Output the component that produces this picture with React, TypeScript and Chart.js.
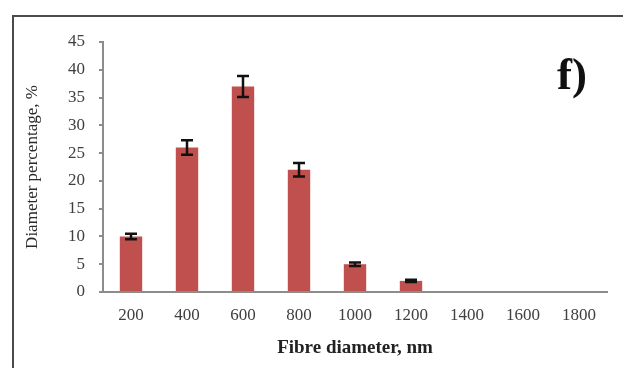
import React, { useEffect, useRef } from "react";
import { Chart, registerables } from "chart.js";

Chart.register(...registerables);

const categories = ["200", "400", "600", "800", "1000", "1200", "1400", "1600", "1800"];
const percentages = [10, 26, 37, 22, 5, 2, 0, 0, 0];
const errors = [0.5, 1.3, 1.9, 1.2, 0.3, 0.2, 0, 0, 0];
const yTicks = [0, 5, 10, 15, 20, 25, 30, 35, 40, 45];
const panelLabel = "f)";
const xTitle = "Fibre diameter, nm";
const yTitle = "Diameter percentage, %";

const SERIF = "'Liberation Serif', 'Times New Roman', serif";

const framePlugin = {
  id: "frame",
  beforeDraw(chart: any) {
    const ctx = chart.ctx;
    ctx.save();
    ctx.fillStyle = "#ffffff";
    ctx.fillRect(0, 0, chart.width, chart.height);
    ctx.strokeStyle = "#4a4a4a";
    ctx.lineWidth = 2;
    ctx.strokeRect(13, 16, chart.width + 20, chart.height + 20);
    ctx.restore();
  },
};

const errorBarPlugin = {
  id: "errorBars",
  afterDatasetsDraw(chart: any) {
    const ctx = chart.ctx;
    const meta = chart.getDatasetMeta(0);
    const yScale = chart.scales.y;
    ctx.save();
    ctx.strokeStyle = "#111111";
    ctx.lineWidth = 2.5;
    meta.data.forEach((bar: any, i: number) => {
      const e = errors[i];
      if (!e) return;
      const v = percentages[i];
      const x = bar.x;
      const yTop = yScale.getPixelForValue(v + e);
      const yBot = yScale.getPixelForValue(v - e);
      const cap = 6;
      ctx.beginPath();
      ctx.moveTo(x, yTop);
      ctx.lineTo(x, yBot);
      ctx.moveTo(x - cap, yTop);
      ctx.lineTo(x + cap, yTop);
      ctx.moveTo(x - cap, yBot);
      ctx.lineTo(x + cap, yBot);
      ctx.stroke();
    });
    ctx.restore();
  },
};

const panelLabelPlugin = {
  id: "panelLabel",
  afterDraw(chart: any) {
    const ctx = chart.ctx;
    const area = chart.chartArea;
    ctx.save();
    ctx.fillStyle = "#111111";
    ctx.font = `bold 45px ${SERIF}`;
    ctx.textAlign = "left";
    ctx.textBaseline = "alphabetic";
    ctx.fillText(panelLabel, area.right - 50, area.top + 47);
    ctx.restore();
  },
};

export default function App() {
  const canvasRef = useRef<HTMLCanvasElement | null>(null);

  useEffect(() => {
    const canvas = canvasRef.current;
    if (!canvas) return;
    const chart = new Chart(canvas, {
      type: "bar",
      data: {
        labels: categories,
        datasets: [
          {
            label: "Diameter percentage",
            data: percentages,
            backgroundColor: "#C0504D",
            borderWidth: 0,
            barPercentage: 0.4,
            categoryPercentage: 1,
          },
        ],
      },
      options: {
        animation: false,
        responsive: false,
        devicePixelRatio: 1,
        layout: { padding: { left: 14, right: 16, top: 42, bottom: 0 } },
        plugins: {
          legend: { display: false },
          tooltip: { enabled: false },
        },
        scales: {
          x: {
            type: "category",
            offset: true,
            grid: { display: false, drawTicks: false },
            border: { display: true, color: "#8c8c8c", width: 2 },
            ticks: {
              color: "#404040",
              font: { family: SERIF, size: 17 },
              padding: 13,
              maxRotation: 0,
              autoSkip: false,
            },
            title: {
              display: true,
              text: xTitle,
              color: "#222222",
              font: { family: SERIF, size: 19, weight: "bold" },
              padding: { top: 12, bottom: 9 },
            },
            afterFit(scale: any) {
              scale.height = 76;
            },
          },
          y: {
            min: 0,
            max: 45,
            afterBuildTicks(scale: any) {
              scale.ticks = yTicks.map((v) => ({ value: v }));
            },
            grid: {
              display: true,
              drawOnChartArea: false,
              drawTicks: true,
              tickLength: 4,
              color: "#8c8c8c",
              lineWidth: 2,
            },
            border: { display: true, color: "#8c8c8c", width: 2 },
            ticks: {
              color: "#404040",
              font: { family: SERIF, size: 17 },
              padding: 14,
            },
            title: {
              display: true,
              text: yTitle,
              color: "#2a2a2a",
              font: { family: SERIF, size: 17 },
              padding: { top: 8, bottom: 4 },
            },
            afterFit(scale: any) {
              scale.width = 89;
            },
          },
        },
      },
      plugins: [framePlugin, errorBarPlugin, panelLabelPlugin],
    });
    return () => chart.destroy();
  }, []);

  return (
    <div style={{ position: "fixed", left: 0, top: 0, width: 623, height: 368, overflow: "hidden", background: "#fff" }}>
      <canvas ref={canvasRef} width={623} height={368} style={{ display: "block", width: 623, height: 368 }} />
    </div>
  );
}
